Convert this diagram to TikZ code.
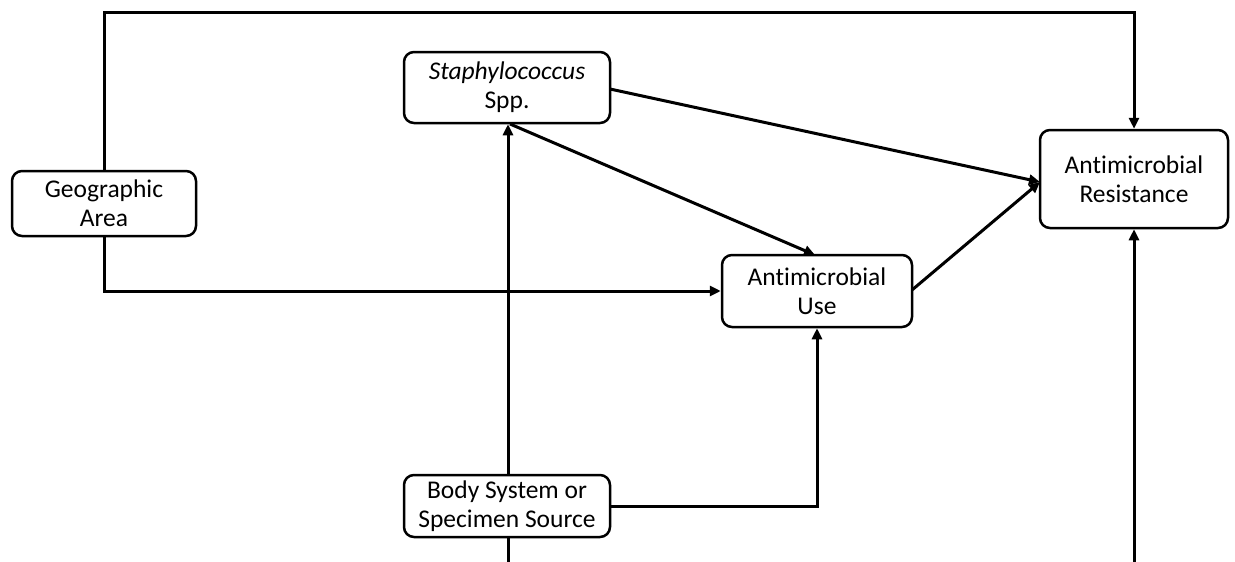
\documentclass[tikz,border=0pt]{standalone}
\usepackage{fontspec}
\setmainfont[Ligatures=NoCommon]{Carlito}
\usetikzlibrary{arrows.meta}
\begin{document}
\begin{tikzpicture}[x=1pt,y=-1pt,
  box/.style={draw,line width=2.5pt,rounded corners=10pt,align=center,inner sep=0pt,font=\fontsize{25.5}{29}\selectfont},
  conn/.style={line width=3pt,-{Triangle[length=11pt,width=10pt]}},
  plain/.style={line width=3pt}]
\useasboundingbox (0,0) rectangle (1235,562);
\node[box,minimum width=206pt,minimum height=71pt] (staph) at (507,87.5) {\textit{Staphylococcus}\\Spp.};
\node[box,minimum width=184pt,minimum height=65pt] (geo) at (104,203.5) {Geographic\\Area};
\node[box,minimum width=190pt,minimum height=72pt] (use) at (817,291) {Antimicrobial\\Use};
\node[box,minimum width=188pt,minimum height=98pt] (res) at (1134,179) {Antimicrobial\\Resistance};
\node[box,minimum width=206pt,minimum height=62pt] (body) at (507,506) {Body System or\\Specimen Source};
\coordinate (bodybot) at (508,562);
\coordinate (resbot) at (1134,562);
% top loop
\draw[conn] (geo.north) -- (104,12) -- (1134,12) -- (res.north);
% geo to use
\draw[conn] (geo.south) -- (104,291) -- (use.west);
% body to staph
\draw[conn] (body.north -| 508,0) -- (staph.south -| 508,0);
% body to use
\draw[conn] (body.east) -- (817,506) -- (use.south);
% staph to use
\draw[conn] (510,124) -- (815,255);
% staph to res
\draw[conn] (610,89) -- (1040,182);
% use to res
\draw[conn] (912,290) -- (1040,182);
% bottom lines
\draw[plain] (body.south -| 508,0) -- (bodybot);
\draw[conn] (resbot) -- (res.south);
\end{tikzpicture}
\end{document}
